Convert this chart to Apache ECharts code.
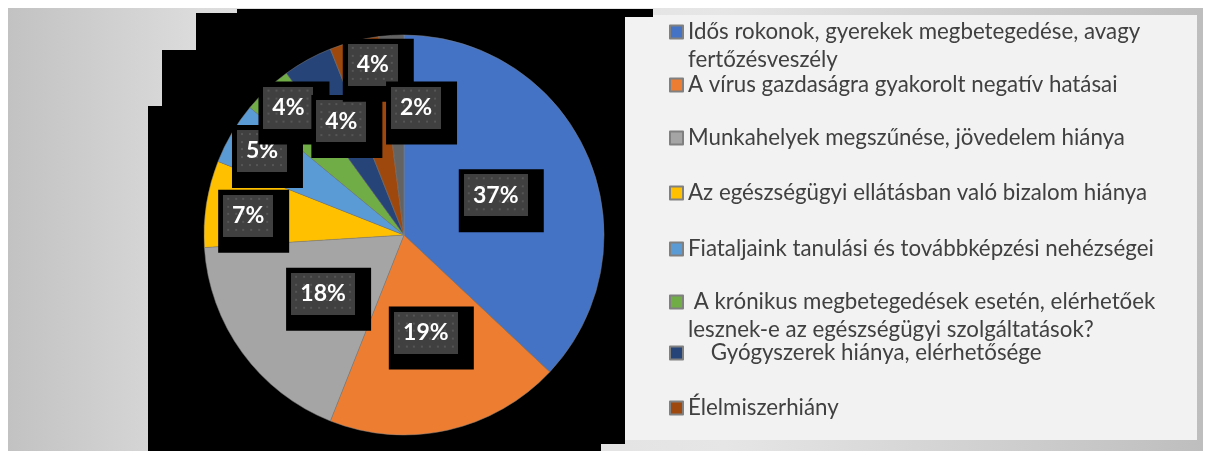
<!DOCTYPE html>
<html>
<head>
<meta charset="utf-8">
<script src="https://cdn.jsdelivr.net/npm/echarts@6/dist/echarts.min.js"></script>
<style>
	html, body { margin: 0; padding: 0; background: #fff; }
	#chart { width: 1207px; height: 451px; }
</style>
</head>
<body>
<div id="chart"></div>
<script>
// adatok (szazalek)
const categories = [
	"Idős rokonok, gyerekek megbetegedése, avagy fertőzésveszély",
	"A vírus gazdaságra gyakorolt negatív hatásai",
	"Munkahelyek megszűnése, jövedelem hiánya",
	"Az egészségügyi ellátásban való bizalom hiánya",
	"Fiataljaink tanulási és továbbképzési nehézségei",
	" A krónikus megbetegedések esetén, elérhetőek lesznek-e az egészségügyi szolgáltatások?",
	"    Gyógyszerek hiánya, elérhetősége",
	"Élelmiszerhiány",
	"Egyéb"
];
const values = [37, 19, 18, 7, 5, 4, 4, 4, 2];
const colors = ["#4472C4", "#ED7D31", "#A5A5A5", "#FFC000", "#5B9BD5", "#70AD47", "#264478", "#9E480E", "#636363"];

// legend szovegek sortoressel
const legendLines = [
	["Idős rokonok, gyerekek megbetegedése, avagy", "fertőzésveszély"],
	["A vírus gazdaságra gyakorolt negatív hatásai"],
	["Munkahelyek megszűnése, jövedelem hiánya"],
	["Az egészségügyi ellátásban való bizalom hiánya"],
	["Fiataljaink tanulási és továbbképzési nehézségei"],
	[" A krónikus megbetegedések esetén, elérhetőek", "lesznek-e az egészségügyi szolgáltatások?"],
	["    Gyógyszerek hiánya, elérhetősége"],
	["Élelmiszerhiány"]
];

// elrendezes
const pieCenter = [404, 235];
const pieRadius = 200;
const legendY = [32, 85, 138, 193, 249, 302, 353, 408];
const labelRadius = [100, 100, 100, 157, 165, 172, 130, 173, 128];
const labelTurn = [0, 0, 0, -2, 0, 1, 0, 4, 9];

function dotPattern(w, h) {
	let c = document.createElement("canvas");
	c.width = w;
	c.height = h;
	let ctx = c.getContext("2d");
	ctx.fillStyle = "#404040";
	ctx.fillRect(0, 0, w, h);
	ctx.fillStyle = "#565656";
	for (let y = 3; y < h - 1; y += 7.7) {
		for (let x = 4; x < w - 1; x += 7.7) {
			ctx.fillRect(Math.round(x), Math.round(y), 2, 2);
		}
	}
	return c;
}

let chart = echarts.init(document.getElementById("chart"));

let total = values.reduce(function(a, b) { return a + b; }, 0);

let legends = legendLines.map(function(lines, i) {
	let twoLines = lines.length > 1;
	return {
		orient: "vertical",
		left: 669,
		top: legendY[i] - (twoLines ? 42 : 14),
		padding: 0,
		itemWidth: 13,
		itemHeight: 13,
		icon: "rect",
		selectedMode: false,
		data: [categories[i]],
		formatter: function() {
			return twoLines ? "\n" + lines.join("\n") : lines[0];
		},
		textStyle: {
			fontFamily: "Lato",
			fontSize: 22.3,
			color: "#404040",
			lineHeight: 28
		}
	};
});

function labelBox(w) {
	return {
		width: w,
		height: 42,
		lineHeight: 42,
		align: "center",
		color: "#fff",
		fontFamily: "Lato",
		fontWeight: "bold",
		fontSize: 23,
		backgroundColor: { image: dotPattern(w, 42) }
	};
}

let option = {
	animation: false,
	color: colors,
	graphic: [
		{
			type: "rect",
			shape: { x: 8, y: 8, width: 1195, height: 443 },
			style: {
				fill: new echarts.graphic.LinearGradient(0, 0, 1, 0, [
					{ offset: 0, color: "#c2c2c2" },
					{ offset: 0.16, color: "#dcdcdc" },
					{ offset: 0.6, color: "#e6e6e6" },
					{ offset: 1, color: "#bebebe" }
				])
			}
		},
		{
			type: "rect",
			shape: { x: 625, y: 15, width: 572, height: 425 },
			style: { fill: "#f2f2f2" }
		},
		{
			type: "polygon",
			shape: {
				points: [[237, 9], [653, 9], [653, 17], [625, 17], [625, 444], [601, 444], [601, 451],
					[148, 451], [148, 106], [162, 106], [162, 50], [196, 50], [196, 13], [237, 13]]
			},
			style: { fill: "#000" }
		}
	],
	legend: legends,
	series: [
		{
			type: "pie",
			center: pieCenter,
			radius: pieRadius,
			startAngle: 90,
			clockwise: true,
			itemStyle: { borderColor: "#808080", borderWidth: 0.5 },
			emphasis: { disabled: true },
			label: {
				show: true,
				position: "inside",
				backgroundColor: "#000",
				padding: [5, 16, 16, 5],
				formatter: function(p) {
					return (String(p.value).length > 1 ? "{w|" : "{n|") + p.value + "%}";
				},
				rich: {
					w: labelBox(64),
					n: labelBox(50)
				}
			},
			labelLine: { show: false },
			labelLayout: function(p) {
				let i = p.dataIndex;
				let before = 0;
				for (let k = 0; k < i; k++) before += values[k];
				let a = ((before + values[i] / 2) / total * 360 + labelTurn[i]) * Math.PI / 180;
				// a belso doboz legyen a helyen, a fekete keret jobbra-lefele log
				return {
					x: pieCenter[0] + labelRadius[i] * Math.sin(a) + 5.5,
					y: pieCenter[1] - labelRadius[i] * Math.cos(a) + 5.5
				};
			},
			data: categories.map(function(name, i) {
				return { name: name, value: values[i] };
			})
		}
	]
};

chart.setOption(option);
</script>
</body>
</html>
